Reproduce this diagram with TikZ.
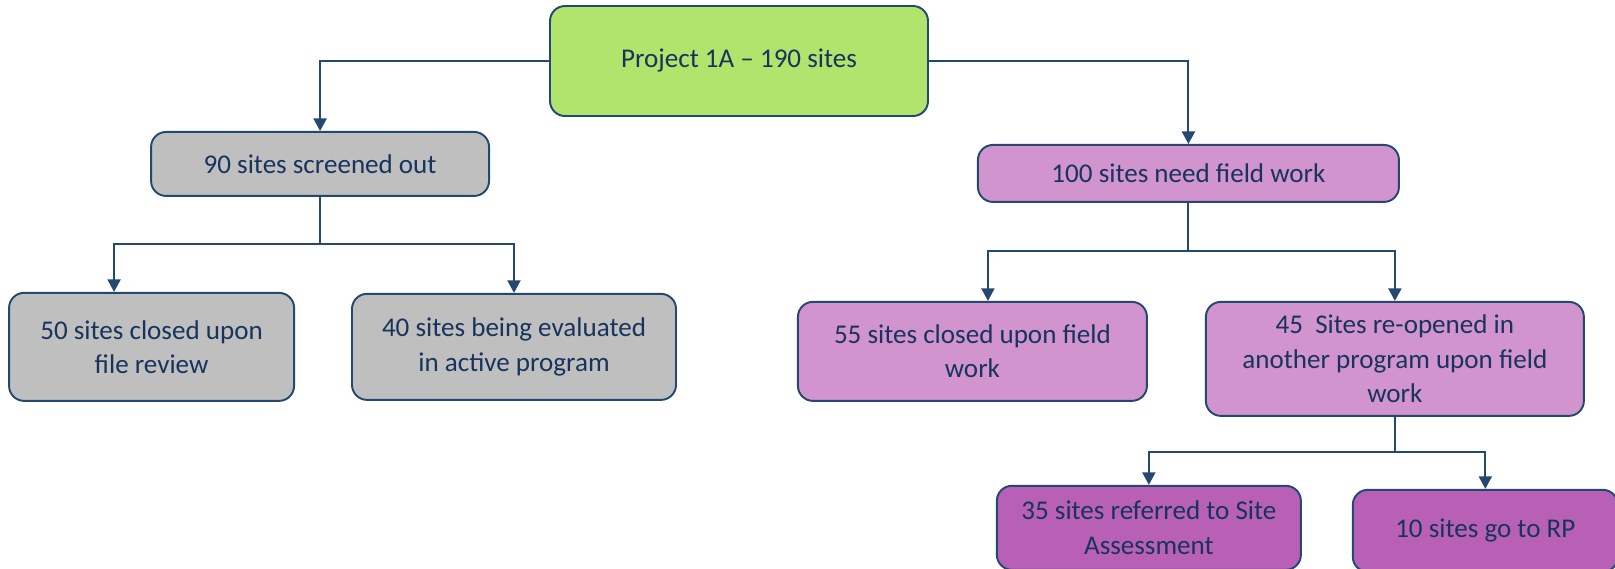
\documentclass[tikz,border=0pt]{standalone}
\usepackage{fontspec}
\setmainfont{Carlito}
\usepackage{tikz}
\usetikzlibrary{shapes, arrows.meta, positioning, calc}
\definecolor{edgeblue}{RGB}{36,72,112}
\definecolor{textblue}{RGB}{24,52,92}
\definecolor{rootgreen}{RGB}{176,228,108}
\definecolor{outgray}{RGB}{191,191,191}
\definecolor{fieldlilac}{RGB}{209,148,206}
\definecolor{refmagenta}{RGB}{183,96,182}
\tikzset{
    block/.style={rectangle, draw=edgeblue, line width=1.1pt, rounded corners=0.3cm, align=center, text=textblue, font=\fontsize{15.4}{19.5}\selectfont, inner sep=2pt},
    line/.style={draw=edgeblue, line width=1.1pt},
    arrow/.style={line, -{Triangle[width=0.26cm, length=0.25cm]}}
}

\begin{document}
\begin{tikzpicture}
    \useasboundingbox (0,0) rectangle (32.3,-11.36);

    % Nodes
    \node (root) [block, fill=rootgreen, minimum width=7.56cm, minimum height=2.2cm] at (14.78,-1.22) {Project 1A -- 190 sites};
    \node (screened) [block, fill=outgray, minimum width=6.76cm, minimum height=1.28cm, below left=0.28cm and 1.18cm of root] {90 sites screened out};
    \node (fifty) [block, fill=outgray, minimum width=5.7cm, minimum height=2.16cm, below=1.9cm of screened, xshift=-3.37cm] {50 sites closed upon\\file review};
    \node (forty) [block, fill=outgray, minimum width=6.48cm, minimum height=2.12cm, right=1.12cm of fifty] {40 sites being evaluated\\in active program};

    \node (hundred) [block, fill=fieldlilac, minimum width=8.42cm, minimum height=1.14cm, below right=0.54cm and 0.96cm of root] {100 sites need field work};
    \node (fiftyfive) [block, fill=fieldlilac, minimum width=6.98cm, minimum height=1.98cm, below=1.96cm of hundred, xshift=-4.32cm] {55 sites closed upon field\\work};
    \node (fortyfive) [block, fill=fieldlilac, minimum width=7.56cm, minimum height=2.28cm, right=1.14cm of fiftyfive.north east, anchor=north west] {45~ Sites re-opened in\\another program upon field\\work};

    \node (thirtyfive) [block, fill=refmagenta, minimum width=6.08cm, minimum height=1.68cm, below=1.36cm of fortyfive, xshift=-4.92cm] {35 sites referred to Site\\Assessment};
    \node (ten) [block, fill=refmagenta, minimum width=5.3cm, minimum height=1.64cm, right=1.0cm of thirtyfive, yshift=-0.06cm] {10 sites go to RP};

    % Arrows
    \draw [arrow] (root.west) -| (screened.north);
    \draw [arrow] (root.east) -| (hundred.north);

    \draw [line] (screened.south) -- ++(0,-0.94) coordinate (screenjoin);
    \draw [arrow] (screenjoin) -| ([xshift=-0.75cm]fifty.north);
    \draw [arrow] (screenjoin) -| (forty.north);

    \draw [line] (hundred.south) -- ++(0,-0.96) coordinate (fieldjoin);
    \draw [arrow] (fieldjoin) -| ([xshift=0.31cm]fiftyfive.north);
    \draw [arrow] (fieldjoin) -| (fortyfive.north);

    \draw [line] (fortyfive.south) -- ++(0,-0.7) coordinate (reopenjoin);
    \draw [arrow] (reopenjoin) -| (thirtyfive.north);
    \draw [arrow] (reopenjoin) -| (ten.north);

\end{tikzpicture}
\end{document}
